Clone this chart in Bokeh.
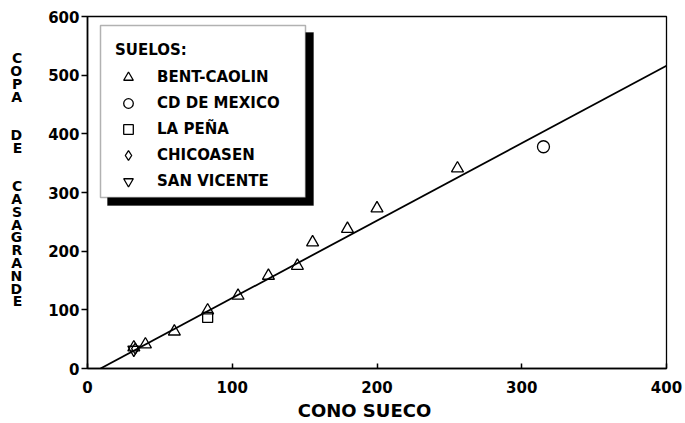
from bokeh.plotting import figure
from bokeh.models import BoxAnnotation, Legend, LegendItem, FixedTicker
from bokeh.embed import file_html
from bokeh.resources import INLINE

# ---- data ----
bent_x = [32, 40, 60, 83, 104, 125, 145, 155.5, 179.6, 200, 255.6]
bent_y = [36, 41, 63, 99, 124, 158, 175, 215, 238, 273, 341]
cdmx_x = [315]
cdmx_y = [378]
pena_x = [83]
pena_y = [87]
chic_x = [33]
chic_y = [34]
sanv_x = [32]
sanv_y = [32]
fit_x = [9, 400]
fit_y = [0, 516]
x_ticks = [0, 100, 200, 300, 400]
y_ticks = [0, 100, 200, 300, 400, 500, 600]
legend_title = "SUELOS:"
series_labels = ["BENT-CAOLIN", "CD DE MEXICO", "LA PEÑA", "CHICOASEN", "SAN VICENTE"]
x_title = "CONO SUECO"
y_title_lines = ["C", "O", "P", "A", " ", " ", "D", "E", " ", " ",
                 "C", "A", "S", "A", "G", "R", "A", "N", "D", "E", " ", " "]

FONT = "DejaVu Sans"

p = figure(width=685, height=423, x_range=(0, 400), y_range=(0, 600),
           output_backend="svg", toolbar_location=None,
           min_border_left=87, min_border_right=19,
           min_border_top=16, min_border_bottom=55)
p.grid.visible = False
p.outline_line_color = "black"
p.outline_line_width = 1.3
p.background_fill_color = "white"

for ax in (p.xaxis[0], p.yaxis[0]):
    ax.axis_line_width = 1.6
    ax.axis_line_color = "black"
    ax.major_tick_line_width = 1.5
    ax.minor_tick_line_color = None
    ax.major_label_text_font = FONT
    ax.major_label_text_font_style = "bold"
    ax.major_label_text_font_size = "15px"
    ax.major_label_text_color = "black"
    ax.axis_label_text_font = FONT
    ax.axis_label_text_font_style = "bold"
    ax.axis_label_text_color = "black"

p.xaxis.ticker = FixedTicker(ticks=x_ticks)
p.yaxis.ticker = FixedTicker(ticks=y_ticks)
p.xaxis.major_tick_in = 5
p.xaxis.major_tick_out = 0
p.xaxis.major_label_standoff = 12
p.xaxis.axis_label = x_title + "    "
p.xaxis.axis_label_text_font_size = "18px"
p.xaxis.axis_label_standoff = 4

p.yaxis.major_tick_in = 0
p.yaxis.major_tick_out = 6
p.yaxis.major_label_standoff = 2
p.yaxis.axis_label = "\n".join(y_title_lines)
p.yaxis.axis_label_orientation = "horizontal"
p.yaxis.axis_label_text_font_size = "14px"
p.yaxis.axis_label_text_line_height = 0.8
p.yaxis.axis_label_standoff = 23

# fit line
p.line(fit_x, fit_y, line_color="black", line_width=1.8)

common = dict(fill_color=None, line_color="black", line_width=1.3)
r_bent = p.scatter(bent_x, bent_y, marker="triangle", size=12, **common)
r_cdmx = p.scatter(cdmx_x, cdmx_y, marker="circle", size=12, **common)
r_pena = p.scatter(pena_x, pena_y, marker="square", size=10, **common)
r_chic = p.scatter(chic_x, chic_y, marker="diamond", size=11, **common)
r_sanv = p.scatter(sanv_x, sanv_y, marker="inverted_triangle", size=12, **common)

# legend box with shadow
shadow = BoxAnnotation(left=20, right=226, top=336, bottom=163,
                       left_units="screen", right_units="screen",
                       top_units="screen", bottom_units="screen",
                       fill_color="black", fill_alpha=1.0, line_color="black")
box = BoxAnnotation(left=13, right=218, top=343, bottom=171,
                    left_units="screen", right_units="screen",
                    top_units="screen", bottom_units="screen",
                    fill_color="white", fill_alpha=1.0,
                    line_color="black", line_width=1.5)
p.add_layout(shadow)
p.add_layout(box)

renderers = [r_bent, r_cdmx, r_pena, r_chic, r_sanv]
items = [LegendItem(label=lab, renderers=[r]) for lab, r in zip(series_labels, renderers)]
legend = Legend(items=items, location=(28, 175), title=legend_title,
                title_text_font=FONT, title_text_font_style="bold",
                title_text_font_size="15px", title_standoff=6,
                title_text_color="black",
                label_text_font=FONT, label_text_font_style="bold",
                label_text_font_size="15px", label_standoff=16,
                label_text_color="black",
                glyph_width=26, glyph_height=24, label_height=24,
                spacing=2, padding=0, margin=0,
                border_line_color=None, background_fill_alpha=0)
p.add_layout(legend)

open("out.html", "w").write(file_html(p, INLINE))
